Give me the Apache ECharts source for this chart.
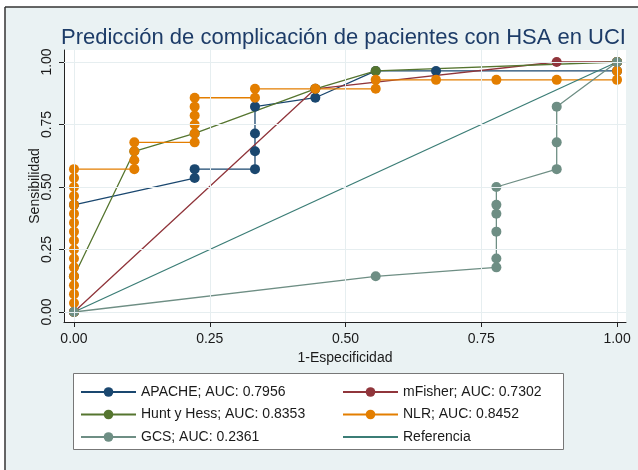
<!DOCTYPE html>
<html>
<head>
<meta charset="utf-8">
<script src="https://cdn.jsdelivr.net/npm/echarts@6/dist/echarts.min.js"></script>
<style>
  html, body { margin: 0; padding: 0; background: #fff; }
  #chart { width: 638px; height: 470px; }
</style>
</head>
<body>
<div id="chart"></div>
<script>
// ejes: 1-Especificidad (x) y Sensibilidad (y)
const tickVals = [0, 0.25, 0.5, 0.75, 1];

const apacheX = [0, 0, 0.2222, 0.2222, 0.3333, 0.3333, 0.3333, 0.3333, 0.4444, 0.5556, 0.6667, 1, 1];
const apacheY = [0, 0.4286, 0.5357, 0.5714, 0.5714, 0.6429, 0.7143, 0.8214, 0.8571, 0.9643, 0.9643, 0.9643, 1];

const fisherX = [0, 0.4444, 0.8889, 1];
const fisherY = [0, 0.8929, 1, 1];

const huntX = [0, 0, 0.1111, 0.2222, 0.4444, 0.5556, 1];
const huntY = [0, 0.1429, 0.6429, 0.7143, 0.8929, 0.9643, 1];

const nlrX = [0, 0, 0, 0, 0, 0, 0, 0, 0, 0, 0, 0, 0, 0, 0, 0, 0,
  0.1111, 0.1111, 0.1111, 0.1111,
  0.2222, 0.2222, 0.2222, 0.2222, 0.2222, 0.2222,
  0.3333, 0.3333, 0.4444, 0.5556, 0.5556, 0.6667, 0.7778, 0.8889, 1, 1, 1];
const nlrY = [0, 0.0357, 0.0714, 0.1071, 0.1429, 0.1786, 0.2143, 0.25, 0.2857, 0.3214, 0.3571, 0.3929, 0.4286, 0.4643, 0.5, 0.5357, 0.5714,
  0.5714, 0.6071, 0.6429, 0.6786,
  0.6786, 0.7143, 0.75, 0.7857, 0.8214, 0.8571,
  0.8571, 0.8929, 0.8929, 0.8929, 0.9286, 0.9286, 0.9286, 0.9286, 0.9286, 0.9643, 1];

const gcsX = [0, 0.5556, 0.7778, 0.7778, 0.7778, 0.7778, 0.7778, 0.7778, 0.8889, 0.8889, 0.8889, 1];
const gcsY = [0, 0.1429, 0.1786, 0.2143, 0.3214, 0.3929, 0.4286, 0.5, 0.5714, 0.6786, 0.8214, 1];

const refX = [0, 1];
const refY = [0, 1];

const pairs = (xs, ys) => xs.map((x, i) => [x, ys[i]]);

const chart = echarts.init(document.getElementById('chart'));

const curve = (name, color, xs, ys) => ({
  name: name,
  type: 'line',
  data: pairs(xs, ys),
  symbol: 'circle',
  symbolSize: 10,
  showAllSymbol: true,
  itemStyle: { color: color, borderWidth: 0 },
  lineStyle: { color: color, width: 1.3 },
  animation: false
});

const axisFont = { fontFamily: 'Liberation Sans, Arial', fontSize: 14, color: '#1a1a1a' };
const legendFont = { fontFamily: 'Liberation Sans, Arial', fontSize: 14, color: '#1a1a1a' };

const option = {
  backgroundColor: '#EAF2F3',
  animation: false,
  title: {
    text: 'Predicción de complicación de pacientes con HSA en UCI',
    left: 56,
    top: 22,
    textStyle: { fontFamily: 'Liberation Sans, Arial', fontSize: 22, fontWeight: 'normal', color: '#1d3c68' }
  },
  grid: {
    left: 64,
    right: 12,
    top: 50,
    bottom: 148,
    show: true,
    backgroundColor: '#fff',
    borderWidth: 0
  },
  xAxis: {
    type: 'value',
    min: -0.0184,
    max: 1.0165,
    name: '1-Especificidad',
    nameLocation: 'middle',
    nameGap: 28,
    nameTextStyle: axisFont,
    axisLine: { show: true, onZero: false, lineStyle: { color: '#222', width: 1 } },
    axisTick: { show: true, customValues: tickVals, length: 5, lineStyle: { color: '#222' } },
    axisLabel: { customValues: tickVals, margin: 10, formatter: (v) => v.toFixed(2), ...axisFont },
    splitLine: { show: false }
  },
  yAxis: {
    type: 'value',
    min: -0.04,
    max: 1.048,
    name: 'Sensibilidad',
    nameLocation: 'middle',
    nameRotate: 90,
    nameGap: 22,
    nameMoveOverlap: false,
    nameTextStyle: axisFont,
    axisLine: { show: true, onZero: false, lineStyle: { color: '#222', width: 1 } },
    axisTick: { show: true, customValues: tickVals, length: 5, lineStyle: { color: '#222' } },
    axisLabel: { customValues: tickVals, rotate: 90, margin: 10, formatter: (v) => v.toFixed(2), ...axisFont },
    splitLine: { show: false }
  },
  legend: [
    {
      orient: 'vertical',
      left: 80,
      top: 385,
      padding: 0,
      itemWidth: 55,
      itemHeight: 12,
      itemGap: 8.5,
      data: ['APACHE; AUC: 0.7956', 'Hunt y Hess; AUC: 0.8353', 'GCS; AUC: 0.2361'],
      textStyle: legendFont
    },
    {
      orient: 'vertical',
      left: 342,
      top: 385,
      padding: 0,
      itemWidth: 55,
      itemHeight: 12,
      itemGap: 8.5,
      data: ['mFisher; AUC: 0.7302', 'NLR; AUC: 0.8452', { name: 'Referencia', itemStyle: { opacity: 0 } }],
      textStyle: legendFont
    }
  ],
  graphic: [
    { type: 'rect', z: 0, shape: { x: 0, y: 0, width: 638, height: 7 }, style: { fill: '#fff' } },
    { type: 'rect', z: 0, shape: { x: 0, y: 0, width: 5, height: 470 }, style: { fill: '#fff' } },
    { type: 'line', z: 0, shape: { x1: 5, y1: 7, x2: 638, y2: 7 }, style: { stroke: '#333', lineWidth: 1.5 } },
    { type: 'line', z: 0, shape: { x1: 5, y1: 7, x2: 5, y2: 470 }, style: { stroke: '#333', lineWidth: 1.5 } },
    { type: 'rect', z: 0, shape: { x: 73.5, y: 373.5, width: 490, height: 76 }, style: { fill: '#fff', stroke: '#777', lineWidth: 1 } }
  ],
  series: [
    {
      name: '_grid',
      type: 'line',
      z: 1,
      data: [[0, 0]],
      showSymbol: false,
      lineStyle: { opacity: 0 },
      markLine: {
        silent: true,
        symbol: 'none',
        animation: false,
        label: { show: false },
        lineStyle: { color: '#E6EEF0', width: 1, type: 'solid' },
        data: tickVals.map((v) => ({ xAxis: v })).concat(tickVals.map((v) => ({ yAxis: v })))
      }
    },
    curve('APACHE; AUC: 0.7956', '#1a476f', apacheX, apacheY),
    curve('mFisher; AUC: 0.7302', '#90353b', fisherX, fisherY),
    curve('Hunt y Hess; AUC: 0.8353', '#55752f', huntX, huntY),
    curve('NLR; AUC: 0.8452', '#e37e00', nlrX, nlrY),
    curve('GCS; AUC: 0.2361', '#6e8e84', gcsX, gcsY),
    {
      name: 'Referencia',
      type: 'line',
      data: pairs(refX, refY),
      symbol: 'none',
      itemStyle: { color: '#3b7d76' },
      lineStyle: { color: '#3b7d76', width: 1.3 },
      animation: false
    }
  ]
};

chart.setOption(option);
</script>
</body>
</html>
